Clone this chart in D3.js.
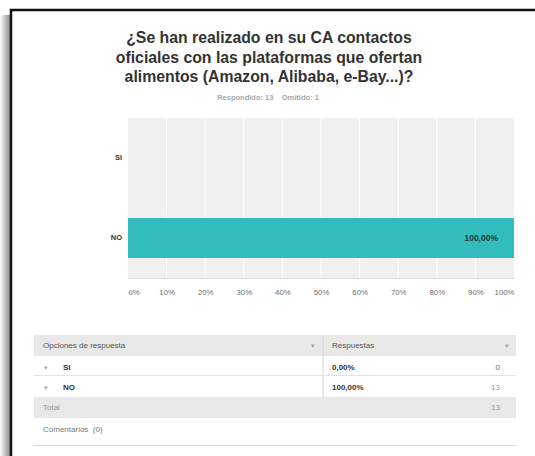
<!DOCTYPE html>
<html>
<head>
<meta charset="utf-8">
<script src="https://cdn.jsdelivr.net/npm/d3@7"></script>
<style>
  html, body { margin: 0; padding: 0; background: #fff; }
  svg { display: block; font-family: "Liberation Sans", Arial, sans-serif; }
</style>
</head>
<body>
<svg id="chart" width="535" height="456"></svg>
<script>
// datos
var titleLines = ["¿Se han realizado en su CA contactos",
                  "oficiales con las plataformas que ofertan",
                  "alimentos (Amazon, Alibaba, e-Bay...)?"];
var answered = 13;
var skipped = 1;
var categories = ["SI", "NO"];
var percents = [0, 100];
var counts = [0, 13];
var percentLabels = ["0,00%", "100,00%"];
var xTicks = [0, 10, 20, 30, 40, 50, 60, 70, 80, 90, 100];
var total = 13;
var commentsCount = 0;

var svg = d3.select("#chart");

// marco con sombra
var defs = svg.append("defs");
var grad = defs.append("linearGradient").attr("id", "shadow")
    .attr("x1", 0).attr("x2", 1).attr("y1", 0).attr("y2", 0);
grad.append("stop").attr("offset", "0%").attr("stop-color", "#fff");
grad.append("stop").attr("offset", "100%").attr("stop-color", "#8a8a8a");
svg.append("rect").attr("x", 0).attr("y", 15).attr("width", 10).attr("height", 441)
    .attr("fill", "url(#shadow)");
svg.append("path").attr("d", "M11,456 V10 H535")
    .attr("fill", "none").attr("stroke", "#111").attr("stroke-width", 2.5);

// titulo
svg.append("g").selectAll("text").data(titleLines).join("text")
    .attr("x", 269)
    .attr("y", (d, i) => 43 + i * 19.5)
    .attr("text-anchor", "middle")
    .attr("font-size", 15.8)
    .attr("font-weight", "bold")
    .attr("fill", "#333")
    .text(d => d);

svg.append("text")
    .attr("x", 268).attr("y", 100)
    .attr("text-anchor", "middle")
    .attr("font-size", 7.5).attr("font-weight", "bold")
    .attr("fill", "#a8a8a8")
    .attr("xml:space", "preserve")
    .text("Respondido: " + answered + "    Omitido: " + skipped);

// escalas
var x = d3.scaleLinear().domain([0, 100]).range([128, 514]);
var y = d3.scaleBand().domain(categories).range([118, 278])
    .paddingInner(0.5).paddingOuter(0.25);

var chart = svg.append("g");

chart.append("rect")
    .attr("x", x(0)).attr("y", 118)
    .attr("width", x(100) - x(0)).attr("height", 160)
    .attr("fill", "#f0f0f0");

// lineas de la cuadricula
chart.selectAll(".grid").data(xTicks.slice(1, -1)).join("line")
    .attr("x1", d => x(d)).attr("x2", d => x(d))
    .attr("y1", 118).attr("y2", 278)
    .attr("stroke", "#fff").attr("stroke-width", 1);

chart.append("line")
    .attr("x1", x(0)).attr("x2", x(100))
    .attr("y1", 278.5).attr("y2", 278.5)
    .attr("stroke", "#dcdcdc");

// barras
var rows = categories.map((c, i) => ({ cat: c, pct: percents[i], label: percentLabels[i] }));

chart.selectAll(".bar").data(rows).join("rect")
    .attr("x", x(0))
    .attr("y", d => y(d.cat))
    .attr("width", d => x(d.pct) - x(0))
    .attr("height", y.bandwidth())
    .attr("fill", "#33bcbd");

chart.selectAll(".val").data(rows.filter(d => d.pct > 0)).join("text")
    .attr("x", d => x(d.pct) - 16)
    .attr("y", d => y(d.cat) + y.bandwidth() / 2)
    .attr("dy", "0.35em")
    .attr("text-anchor", "end")
    .attr("font-size", 8.5).attr("font-weight", "bold")
    .attr("fill", "#1d3b3b")
    .text(d => d.label);

// eje y
var yAxis = chart.append("g")
    .attr("transform", "translate(122,0)")
    .call(d3.axisLeft(y).tickSize(0).tickPadding(0));
yAxis.select(".domain").remove();
yAxis.selectAll("text")
    .attr("font-size", 7.5).attr("font-weight", "bold")
    .attr("font-family", "Liberation Sans, Arial, sans-serif")
    .attr("fill", "#333");

// eje x
var xAxis = chart.append("g")
    .attr("transform", "translate(0,278)")
    .call(d3.axisBottom(x).tickValues(xTicks).tickSize(0).tickPadding(11)
        .tickFormat(d => d + "%"));
xAxis.select(".domain").remove();
xAxis.selectAll("text")
    .attr("font-size", 7.8)
    .attr("font-family", "Liberation Sans, Arial, sans-serif")
    .attr("fill", "#6f6f6f")
    .attr("text-anchor", d => d === 0 ? "start" : (d === 100 ? "end" : "middle"));

// tabla
var tx0 = 34, tx1 = 516, tcol = 323;
var table = svg.append("g").attr("font-size", 8);

table.append("rect").attr("x", tx0).attr("y", 335).attr("width", tx1 - tx0).attr("height", 21)
    .attr("fill", "#e8e8e8");
table.append("rect").attr("x", tx0).attr("y", 397).attr("width", tx1 - tx0).attr("height", 21)
    .attr("fill", "#e8e8e8");
table.append("line").attr("x1", tcol).attr("x2", tcol).attr("y1", 335).attr("y2", 397)
    .attr("stroke", "#d4d4d4");
table.append("line").attr("x1", tx0).attr("x2", tx1).attr("y1", 375.5).attr("y2", 375.5)
    .attr("stroke", "#e4e4e4");
table.append("line").attr("x1", tx0).attr("x2", tx1).attr("y1", 445.5).attr("y2", 445.5)
    .attr("stroke", "#d8d8d8");

table.append("text").attr("x", 43).attr("y", 348).attr("fill", "#555").text("Opciones de respuesta");
table.append("text").attr("x", 332).attr("y", 348).attr("fill", "#555").text("Respuestas");
table.selectAll(".hdrArrow").data([313, 507]).join("text")
    .attr("x", d => d).attr("y", 348).attr("text-anchor", "middle")
    .attr("fill", "#aaa").attr("font-size", 7).text("▾");

var trow = table.selectAll(".row").data(rows).join("g")
    .attr("transform", (d, i) => "translate(0," + (369.5 + i * 20) + ")");
trow.append("text").attr("x", 46).attr("text-anchor", "middle")
    .attr("fill", "#aaa").attr("font-size", 7).text("▾");
trow.append("text").attr("x", 63).attr("font-weight", "bold").attr("fill", "#333")
    .text(d => d.cat);
trow.append("text").attr("x", 332).attr("font-weight", "bold").attr("fill", "#333")
    .text(d => d.label);
trow.append("text").attr("x", 500).attr("text-anchor", "end")
    .attr("fill", (d, i) => counts[i] === 0 ? "#666" : "#999")
    .text((d, i) => counts[i]);

table.append("text").attr("x", 43).attr("y", 410).attr("fill", "#999").text("Total");
table.append("text").attr("x", 500).attr("y", 410).attr("text-anchor", "end").attr("fill", "#999")
    .text(total);
table.append("text").attr("x", 43).attr("y", 432).attr("fill", "#777")
    .text("Comentarios  (" + commentsCount + ")").attr("xml:space", "preserve");
</script>
</body>
</html>
